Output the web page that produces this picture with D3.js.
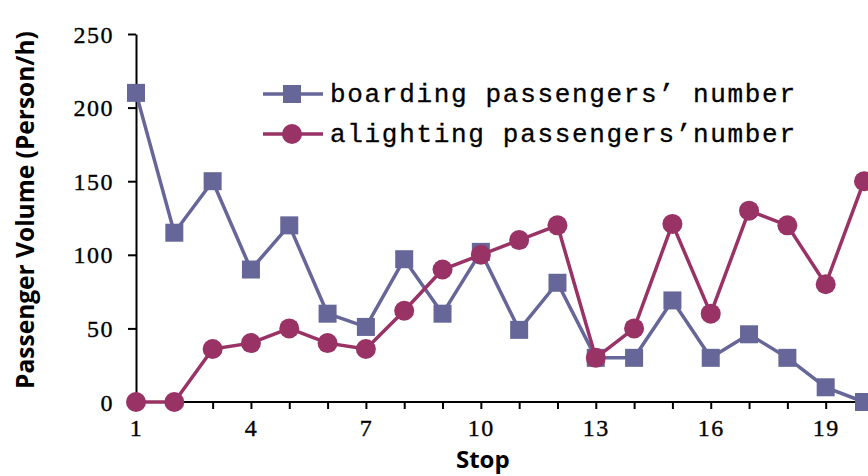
<!DOCTYPE html>
<html>
<head>
<meta charset="utf-8">
<script src="https://cdn.jsdelivr.net/npm/d3@7"></script>
<style>
  html, body { margin: 0; padding: 0; background: #fff; }
  svg { display: block; }
</style>
</head>
<body>
<svg id="chart" width="868" height="476"></svg>
<script>
// ---- data ----
const stops = [1,2,3,4,5,6,7,8,9,10,11,12,13,14,15,16,17,18,19,20];
const boarding = [210,115,150,90,120,60,51,97,60,102,49,81,30,30,69,30,46,30,10,0];
const alighting = [0,0,36,40,50,40,36,62,90,100,110,120,30,50,121,60,130,120,80,150];
const yTicks = [0,50,100,150,200,250];
const xLabelStops = [1,4,7,10,13,16,19];
const seriesNames = ["boarding passengers\u2019 number", "alighting passengers\u2019number"];
const xTitle = "Stop";
const yTitle = "Passenger Volume (Person/h)";

// ---- layout ----
const W = 868, H = 476;
const colB = "#666699", colA = "#993366";
const svg = d3.select("#chart");

const x = d3.scaleLinear().domain([1, 20]).range([136, 864]);
const y = d3.scaleLinear().domain([0, 250]).range([402, 34]);

const tickFont = "'Liberation Serif', 'DejaVu Serif', serif";

// Y axis
const yAxis = d3.axisLeft(y).tickValues(yTicks).tickSize(8).tickSizeOuter(0).tickPadding(14);
const gy = svg.append("g").attr("transform", `translate(${x(1)},0)`).call(yAxis);
gy.select(".domain").attr("stroke", "#000").attr("stroke-width", 2);
gy.selectAll(".tick line").attr("stroke", "#000").attr("stroke-width", 2);
gy.selectAll(".tick text")
  .attr("font-family", tickFont).attr("font-size", 24).attr("fill", "#000")
  .attr("stroke", "#000").attr("stroke-width", 0.35)
  .style("letter-spacing", "1.5px").attr("dy", "0.34em");

// X axis
const xAxis = d3.axisBottom(x).tickValues(stops).tickSize(7).tickSizeOuter(0).tickPadding(10)
  .tickFormat(d => xLabelStops.includes(d) ? String(d) : "");
const gx = svg.append("g").attr("transform", `translate(0,${y(0)})`).call(xAxis);
gx.select(".domain").remove();
gx.append("line").attr("x1", x(1) - 1).attr("x2", W).attr("y1", 0).attr("y2", 0)
  .attr("stroke", "#000").attr("stroke-width", 2);
gx.selectAll(".tick line").attr("stroke", "#000").attr("stroke-width", 2);
gx.selectAll(".tick text")
  .attr("font-family", tickFont).attr("font-size", 24).attr("fill", "#000")
  .attr("stroke", "#000").attr("stroke-width", 0.35)
  .style("letter-spacing", "1.5px");

// Axis titles
svg.append("text").attr("x", x(10) + 2).attr("y", 468).attr("text-anchor", "middle")
  .attr("font-family", "'Open Sans', 'Noto Sans', sans-serif").attr("font-weight", "bold")
  .attr("font-size", 24).attr("fill", "#000").text(xTitle);

svg.append("text").attr("transform", "translate(34,210) rotate(-90)").attr("text-anchor", "middle")
  .attr("font-family", "'Open Sans', 'Noto Sans', sans-serif").attr("font-weight", "bold")
  .attr("font-size", 24.5).attr("fill", "#000").text(yTitle);

// Lines
const line = d3.line().x((d, i) => x(stops[i])).y(d => y(d));

svg.append("path").datum(boarding).attr("d", line)
  .attr("fill", "none").attr("stroke", colB).attr("stroke-width", 3.5).attr("stroke-linejoin", "round");
const sq = 18;
svg.append("g").selectAll("rect").data(boarding).join("rect")
  .attr("x", (d, i) => x(stops[i]) - sq / 2).attr("y", d => y(d) - sq / 2)
  .attr("width", sq).attr("height", sq).attr("fill", colB);

svg.append("path").datum(alighting).attr("d", line)
  .attr("fill", "none").attr("stroke", colA).attr("stroke-width", 3.5).attr("stroke-linejoin", "round");
svg.append("g").selectAll("circle").data(alighting).join("circle")
  .attr("cx", (d, i) => x(stops[i])).attr("cy", d => y(d)).attr("r", 10).attr("fill", colA);

// Legend
const legend = svg.append("g");
const rows = [
  {name: seriesNames[0], color: colB, shape: "square", cy: 94},
  {name: seriesNames[1], color: colA, shape: "circle", cy: 134}
];
rows.forEach(r => {
  legend.append("line").attr("x1", 263).attr("x2", 323).attr("y1", r.cy).attr("y2", r.cy)
    .attr("stroke", r.color).attr("stroke-width", 3.5);
  if (r.shape === "square") {
    legend.append("rect").attr("x", 292 - sq / 2).attr("y", r.cy - sq / 2)
      .attr("width", sq).attr("height", sq).attr("fill", r.color);
  } else {
    legend.append("circle").attr("cx", 292).attr("cy", r.cy).attr("r", 10).attr("fill", r.color);
  }
  legend.append("text").attr("x", 330).attr("y", r.cy + 8)
    .attr("font-family", "'Liberation Mono', 'DejaVu Sans Mono', monospace")
    .attr("font-size", 26).attr("fill", "#000")
    .attr("stroke", "#000").attr("stroke-width", 0.3)
    .attr("textLength", 465).attr("lengthAdjust", "spacing")
    .text(r.name);
});
</script>
</body>
</html>
